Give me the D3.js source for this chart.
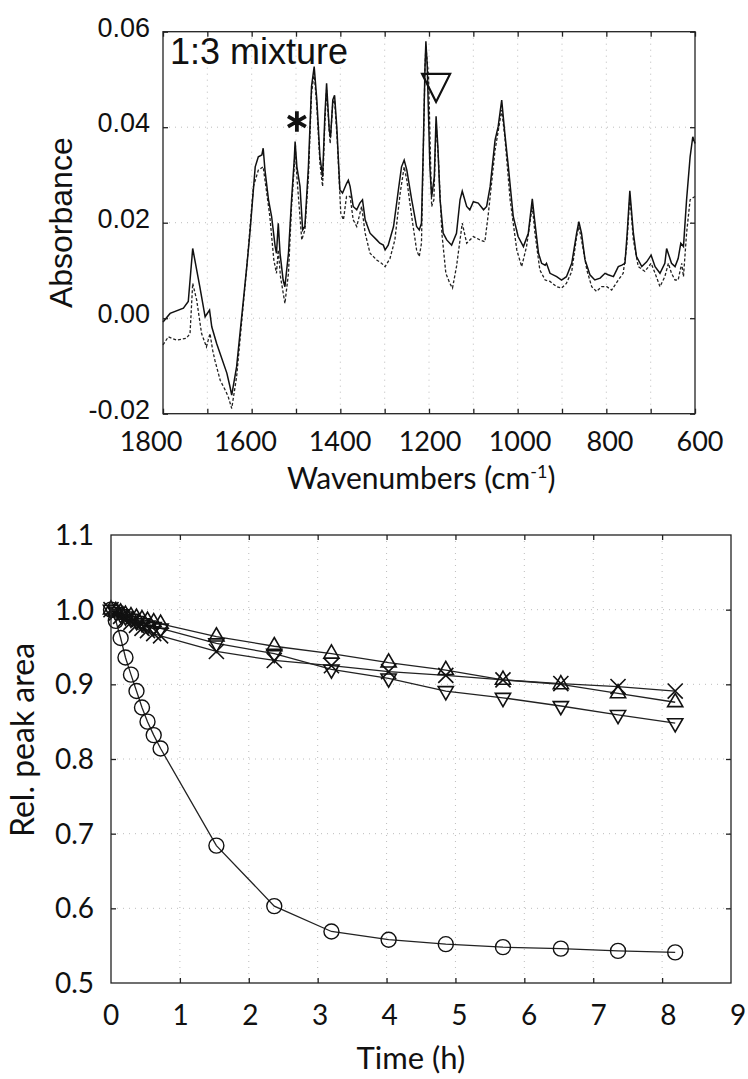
<!DOCTYPE html>
<html>
<head>
<meta charset="utf-8">
<script src="https://d3js.org/d3.v7.min.js"></script>
<style>
  body { margin: 0; background: #fff; }
  svg { display: block; }
  .grid { stroke: #888; stroke-width: 1; stroke-dasharray: 1,5; opacity: 0.55; }
  .frame { fill: none; stroke: #222; stroke-width: 1.3; }
  .tick line { stroke: #222; stroke-width: 1.3; }
  .domain { stroke: none; }
  .arial { font-family: "Liberation Sans", Arial, sans-serif; fill: #111; }
  .cal { font-family: Lato, "Open Sans", sans-serif; fill: #111; }
</style>
</head>
<body>
<script>
// ---------- top panel: IR spectrum of the 1:3 mixture ----------
let solidWn = [1800,1784,1754,1743,1733,1717,1705,1695,1690,1679,
  1656,1649,1645,1634,1611,1604,1592,1585,1577,1574,
  1570,1562,1555,1547,1544,1540,1536,1529,1525,1517,
  1510,1504,1502,1498,1491,1485,1480,1472,1465,1459,
  1453,1446,1440,1435,1431,1425,1422,1417,1413,1408,
  1401,1395,1386,1382,1378,1371,1363,1356,1350,1344,
  1333,1318,1311,1303,1299,1292,1280,1269,1262,1256,
  1250,1239,1228,1222,1217,1213,1209,1207,1204,1198,
  1194,1188,1184,1180,1175,1168,1160,1149,1138,1130,
  1125,1115,1108,1100,1089,1077,1070,1062,1051,1044,
  1036,1029,1021,1010,999,987,976,967,961,953,
  946,938,935,927,912,901,890,878,867,862,
  856,848,837,826,814,803,796,784,773,765,
  758,753,747,739,732,720,709,699,690,679,
  668,664,658,653,645,638,632,626,619,611,
  605,600];
let solidAbs = [-0.0008,0.0010,0.0021,0.0035,0.0146,0.0066,0.0003,0.0017,-0.0018,-0.0053,
  -0.0115,-0.0143,-0.0161,-0.0102,0.0108,0.0178,0.0317,0.0338,0.0342,0.0356,
  0.0310,0.0248,0.0213,0.0150,0.0136,0.0199,0.0136,0.0080,0.0066,0.0136,
  0.0248,0.0331,0.0370,0.0317,0.0276,0.0185,0.0192,0.0317,0.0485,0.0527,
  0.0457,0.0338,0.0296,0.0422,0.0492,0.0394,0.0380,0.0457,0.0467,0.0401,
  0.0269,0.0262,0.0282,0.0289,0.0276,0.0234,0.0227,0.0241,0.0248,0.0206,
  0.0178,0.0164,0.0157,0.0153,0.0143,0.0153,0.0192,0.0269,0.0317,0.0331,
  0.0310,0.0248,0.0192,0.0185,0.0199,0.0352,0.0527,0.0580,0.0527,0.0317,
  0.0254,0.0296,0.0423,0.0359,0.0248,0.0178,0.0164,0.0153,0.0178,0.0248,
  0.0266,0.0234,0.0227,0.0244,0.0241,0.0227,0.0234,0.0276,0.0373,0.0401,
  0.0457,0.0387,0.0317,0.0213,0.0171,0.0150,0.0178,0.0250,0.0199,0.0136,
  0.0115,0.0111,0.0115,0.0094,0.0087,0.0080,0.0087,0.0115,0.0178,0.0202,
  0.0178,0.0122,0.0091,0.0080,0.0084,0.0094,0.0091,0.0087,0.0108,0.0111,
  0.0115,0.0178,0.0267,0.0178,0.0129,0.0108,0.0118,0.0132,0.0108,0.0094,
  0.0115,0.0146,0.0129,0.0115,0.0108,0.0125,0.0157,0.0150,0.0248,0.0338,
  0.0380,0.0366];

let dashWn = [1800,1788,1769,1747,1739,1733,1724,1713,1702,1694,
  1688,1683,1671,1660,1653,1645,1634,1611,1596,1585,
  1574,1566,1559,1550,1544,1540,1535,1525,1517,1510,
  1504,1502,1498,1487,1480,1472,1465,1459,1453,1446,
  1440,1435,1431,1423,1417,1413,1407,1399,1393,1386,
  1378,1371,1363,1352,1344,1333,1318,1307,1299,1288,
  1277,1265,1256,1250,1239,1228,1222,1217,1209,1207,
  1201,1194,1189,1184,1179,1171,1162,1153,1147,1138,
  1125,1115,1100,1085,1074,1066,1051,1036,1029,1017,
  1002,991,980,967,961,950,938,927,912,901,
  890,878,867,862,856,844,833,822,811,799,
  788,773,762,754,747,739,728,713,699,690,
  679,668,660,653,645,638,630,626,619,611,
  600];
let dashAbs = [-0.0056,-0.0039,-0.0046,-0.0042,-0.0032,0.0073,0.0038,-0.0032,-0.0060,-0.0032,
  -0.0067,-0.0088,-0.0130,-0.0150,-0.0164,-0.0189,-0.0123,0.0108,0.0276,0.0310,
  0.0317,0.0262,0.0213,0.0122,0.0094,0.0143,0.0087,0.0031,0.0094,0.0234,
  0.0317,0.0359,0.0296,0.0164,0.0185,0.0296,0.0471,0.0513,0.0443,0.0324,
  0.0276,0.0408,0.0478,0.0366,0.0450,0.0457,0.0373,0.0220,0.0206,0.0255,
  0.0255,0.0206,0.0192,0.0234,0.0178,0.0136,0.0122,0.0115,0.0108,0.0125,
  0.0164,0.0262,0.0317,0.0289,0.0213,0.0143,0.0129,0.0157,0.0527,0.0569,
  0.0506,0.0234,0.0248,0.0408,0.0338,0.0178,0.0094,0.0073,0.0063,0.0108,
  0.0199,0.0157,0.0171,0.0164,0.0160,0.0220,0.0352,0.0436,0.0380,0.0248,
  0.0143,0.0108,0.0150,0.0234,0.0178,0.0101,0.0080,0.0077,0.0066,0.0063,
  0.0073,0.0098,0.0171,0.0192,0.0164,0.0101,0.0066,0.0056,0.0066,0.0066,
  0.0059,0.0080,0.0094,0.0150,0.0255,0.0164,0.0108,0.0098,0.0115,0.0094,
  0.0066,0.0087,0.0115,0.0094,0.0080,0.0080,0.0115,0.0087,0.0178,0.0248,
  0.0255];

let wnLabels = [1800, 1600, 1400, 1200, 1000, 800, 600];
let absLabels = [0.06, 0.04, 0.02, 0.00, -0.02];
let asteriskMark = {wn: 1498, abs: 0.0412};   // "*" over the 1500 band
let triangleMark = {wn: 1184, abs: 0.0453};   // tip of the open triangle

// ---------- bottom panel: relative peak areas vs time ----------
let timeH = [0, 0.07, 0.14, 0.21, 0.29, 0.37, 0.45, 0.53, 0.62, 0.72,
  1.53, 2.37, 3.2, 4.03, 4.86, 5.69, 6.53, 7.36, 8.19];
let circleArea = [1.0, 0.985, 0.962, 0.936, 0.913, 0.891, 0.869, 0.85, 0.832, 0.814,
  0.684, 0.603, 0.569, 0.558, 0.552, 0.548, 0.546, 0.543, 0.541];
let upTriArea = [1.0, 0.998, 0.996, 0.993, 0.991, 0.989, 0.987, 0.985, 0.983, 0.981,
  0.964, 0.951, 0.941, 0.929, 0.919, 0.906, 0.9, 0.888, 0.876];
let downTriArea = [1.0, 0.997, 0.994, 0.991, 0.988, 0.985, 0.982, 0.979, 0.977, 0.975,
  0.955, 0.941, 0.92, 0.908, 0.891, 0.882, 0.871, 0.859, 0.848];
let crossArea = [1.0, 0.995, 0.991, 0.987, 0.983, 0.979, 0.975, 0.972, 0.968, 0.965,
  0.944, 0.932, 0.925, 0.917, 0.912, 0.906, 0.901, 0.897, 0.891];
let timeLabels = [0, 1, 2, 3, 4, 5, 6, 7, 8, 9];
let areaLabels = [0.5, 0.6, 0.7, 0.8, 0.9, 1.0, 1.1];

let svg = d3.select("body").append("svg")
    .attr("width", 748)
    .attr("height", 1079);

// draws inward ticks on all four sides of a box
function boxAxes(g, x, y, xt, yt, box) {
  g.append("g").attr("transform", "translate(0," + box.bottom + ")")
    .call(d3.axisBottom(x).tickValues(xt).tickSize(-5).tickSizeOuter(0).tickFormat(""));
  g.append("g").attr("transform", "translate(0," + box.top + ")")
    .call(d3.axisTop(x).tickValues(xt).tickSize(-5).tickSizeOuter(0).tickFormat(""));
  g.append("g").attr("transform", "translate(" + box.left + ",0)")
    .call(d3.axisLeft(y).tickValues(yt).tickSize(-5).tickSizeOuter(0).tickFormat(""));
  g.append("g").attr("transform", "translate(" + box.right + ",0)")
    .call(d3.axisRight(y).tickValues(yt).tickSize(-5).tickSizeOuter(0).tickFormat(""));
  g.append("rect").attr("class", "frame")
    .attr("x", box.left).attr("y", box.top)
    .attr("width", box.right - box.left).attr("height", box.bottom - box.top);
}

function grid(g, x, y, xt, yt, box) {
  g.selectAll(".vg").data(xt).enter().append("line").attr("class", "grid")
    .attr("x1", d => x(d)).attr("x2", d => x(d))
    .attr("y1", box.top).attr("y2", box.bottom);
  g.selectAll(".hg").data(yt).enter().append("line").attr("class", "grid")
    .attr("x1", box.left).attr("x2", box.right)
    .attr("y1", d => y(d)).attr("y2", d => y(d));
}

// ===== top panel =====
let box1 = {left: 163, right: 695, top: 31.7, bottom: 413.7};
let x1 = d3.scaleLinear().domain([1800, 600]).range([box1.left, box1.right]);
let y1 = d3.scaleLinear().domain([-0.02, 0.06]).range([box1.bottom, box1.top]);
let g1 = svg.append("g");

grid(g1, x1, y1, d3.range(700, 1800, 100), [0.04, 0.02, 0.0], box1);

let spec = d3.line().x(d => x1(d[0])).y(d => y1(d[1]));
g1.append("path")
    .attr("d", spec(d3.zip(dashWn, dashAbs)))
    .attr("fill", "none").attr("stroke", "#222")
    .attr("stroke-width", 1.3).attr("stroke-dasharray", "3,2");
g1.append("path")
    .attr("d", spec(d3.zip(solidWn, solidAbs)))
    .attr("fill", "none").attr("stroke", "#111")
    .attr("stroke-width", 1.5);

boxAxes(g1, x1, y1, d3.range(600, 1801, 100), [-0.02, 0, 0.02, 0.04, 0.06], box1);

// y labels (plain hyphen for the minus, as in the figure)
g1.selectAll(".ylab").data(absLabels).enter().append("text")
    .attr("class", "arial").attr("font-size", 27)
    .attr("text-anchor", "end")
    .attr("x", box1.left - 13)
    .attr("y", d => y1(d) + 5)
    .text(d => d3.format(".2f")(d).replace("\u2212", "-"));

// x labels (placed a little off the ticks, as in the figure)
let xLab1 = d3.scaleLinear().domain([1800, 1400, 600]).range([151, 340, 700]);
g1.selectAll(".xlab").data(wnLabels).enter().append("text")
    .attr("class", "cal").attr("font-size", 27)
    .attr("text-anchor", "middle")
    .attr("x", d => xLab1(d))
    .attr("y", 451)
    .text(d => d);

g1.append("text").attr("class", "cal").attr("font-size", 30)
    .attr("x", 287).attr("y", 489)
    .text("Wavenumbers (cm")
  .append("tspan").attr("font-size", 18).attr("dy", -11).text("-1")
  .clone(true).attr("font-size", 30).attr("dy", 11).text(")");

g1.append("text").attr("class", "arial").attr("font-size", 32)
    .attr("transform", "translate(72," + (box1.top + box1.bottom) / 2 + ") rotate(-90)")
    .attr("text-anchor", "middle")
    .text("Absorbance");

g1.append("text").attr("class", "arial").attr("font-size", 36)
    .attr("x", box1.left + 7).attr("y", 64)
    .text("1:3 mixture");

// annotations
g1.append("path")
    .attr("d", d3.symbol(d3.symbolAsterisk).size(300)())
    .attr("transform", "translate(" + x1(asteriskMark.wn) + "," + y1(asteriskMark.abs) + ")")
    .attr("fill", "none").attr("stroke", "#111").attr("stroke-width", 3.8);
let tx = x1(triangleMark.wn), ty = y1(triangleMark.abs);
g1.append("path")
    .attr("d", d3.line()([[tx, ty], [tx - 14, ty - 28], [tx + 14, ty - 28]]) + "Z")
    .attr("fill", "none").attr("stroke", "#111").attr("stroke-width", 2.2)
    .attr("stroke-linejoin", "miter");

// ===== bottom panel =====
let box2 = {left: 111, right: 731, top: 535, bottom: 983};
let x2 = d3.scaleLinear().domain([0, 9]).range([box2.left, box2.right]);
let y2 = d3.scaleLinear().domain([0.5, 1.1]).range([box2.bottom, box2.top]);
let g2 = svg.append("g");

grid(g2, x2, y2, d3.range(1, 9), [0.6, 0.7, 0.8, 0.9, 1.0], box2);

let kin = d3.line().x(d => x2(d[0])).y(d => y2(d[1]));
let series = [
  {vals: circleArea, shape: "circle"},
  {vals: upTriArea, shape: "up"},
  {vals: downTriArea, shape: "down"},
  {vals: crossArea, shape: "cross"}
];

series.forEach(function(s) {
  g2.append("path")
      .attr("d", kin(d3.zip(timeH, s.vals)))
      .attr("fill", "none").attr("stroke", "#222").attr("stroke-width", 1.3);
});

let triSym = d3.symbol(d3.symbolTriangle).size(100)();
let xSym = d3.symbol(d3.symbolTimes).size(150)();
series.forEach(function(s) {
  let pts = g2.selectAll(null).data(d3.zip(timeH, s.vals)).enter();
  if (s.shape === "circle") {
    pts.append("circle")
        .attr("cx", d => x2(d[0])).attr("cy", d => y2(d[1])).attr("r", 7.5)
        .attr("fill", "none").attr("stroke", "#111").attr("stroke-width", 1.4);
  } else {
    pts.append("path")
        .attr("d", s.shape === "cross" ? xSym : triSym)
        .attr("transform", d => "translate(" + x2(d[0]) + "," + y2(d[1]) + ")" +
              (s.shape === "down" ? " rotate(180)" : ""))
        .attr("fill", "none").attr("stroke", "#111").attr("stroke-width", 1.6);
  }
});

boxAxes(g2, x2, y2, d3.range(1, 9), [0.6, 0.7, 0.8, 0.9, 1.0], box2);

g2.selectAll(".ylab").data(areaLabels).enter().append("text")
    .attr("class", "cal").attr("font-size", 28)
    .attr("text-anchor", "end")
    .attr("x", 94)
    .attr("y", d => y2(d))
    .attr("dy", "0.36em")
    .text(d => d3.format(".1f")(d));

let xLab2 = d3.scaleLinear().domain([0, 9]).range([111, 738]);
g2.selectAll(".xlab").data(timeLabels).enter().append("text")
    .attr("class", "cal").attr("font-size", 28)
    .attr("text-anchor", "middle")
    .attr("x", d => xLab2(d))
    .attr("y", 1025)
    .text(d => d);

g2.append("text").attr("class", "cal").attr("font-size", 31)
    .attr("text-anchor", "middle")
    .attr("x", 411).attr("y", 1069)
    .text("Time (h)");

g2.append("text").attr("class", "cal").attr("font-size", 32)
    .attr("transform", "translate(34,740) rotate(-90)")
    .attr("text-anchor", "middle")
    .text("Rel. peak area");
</script>
</body>
</html>
